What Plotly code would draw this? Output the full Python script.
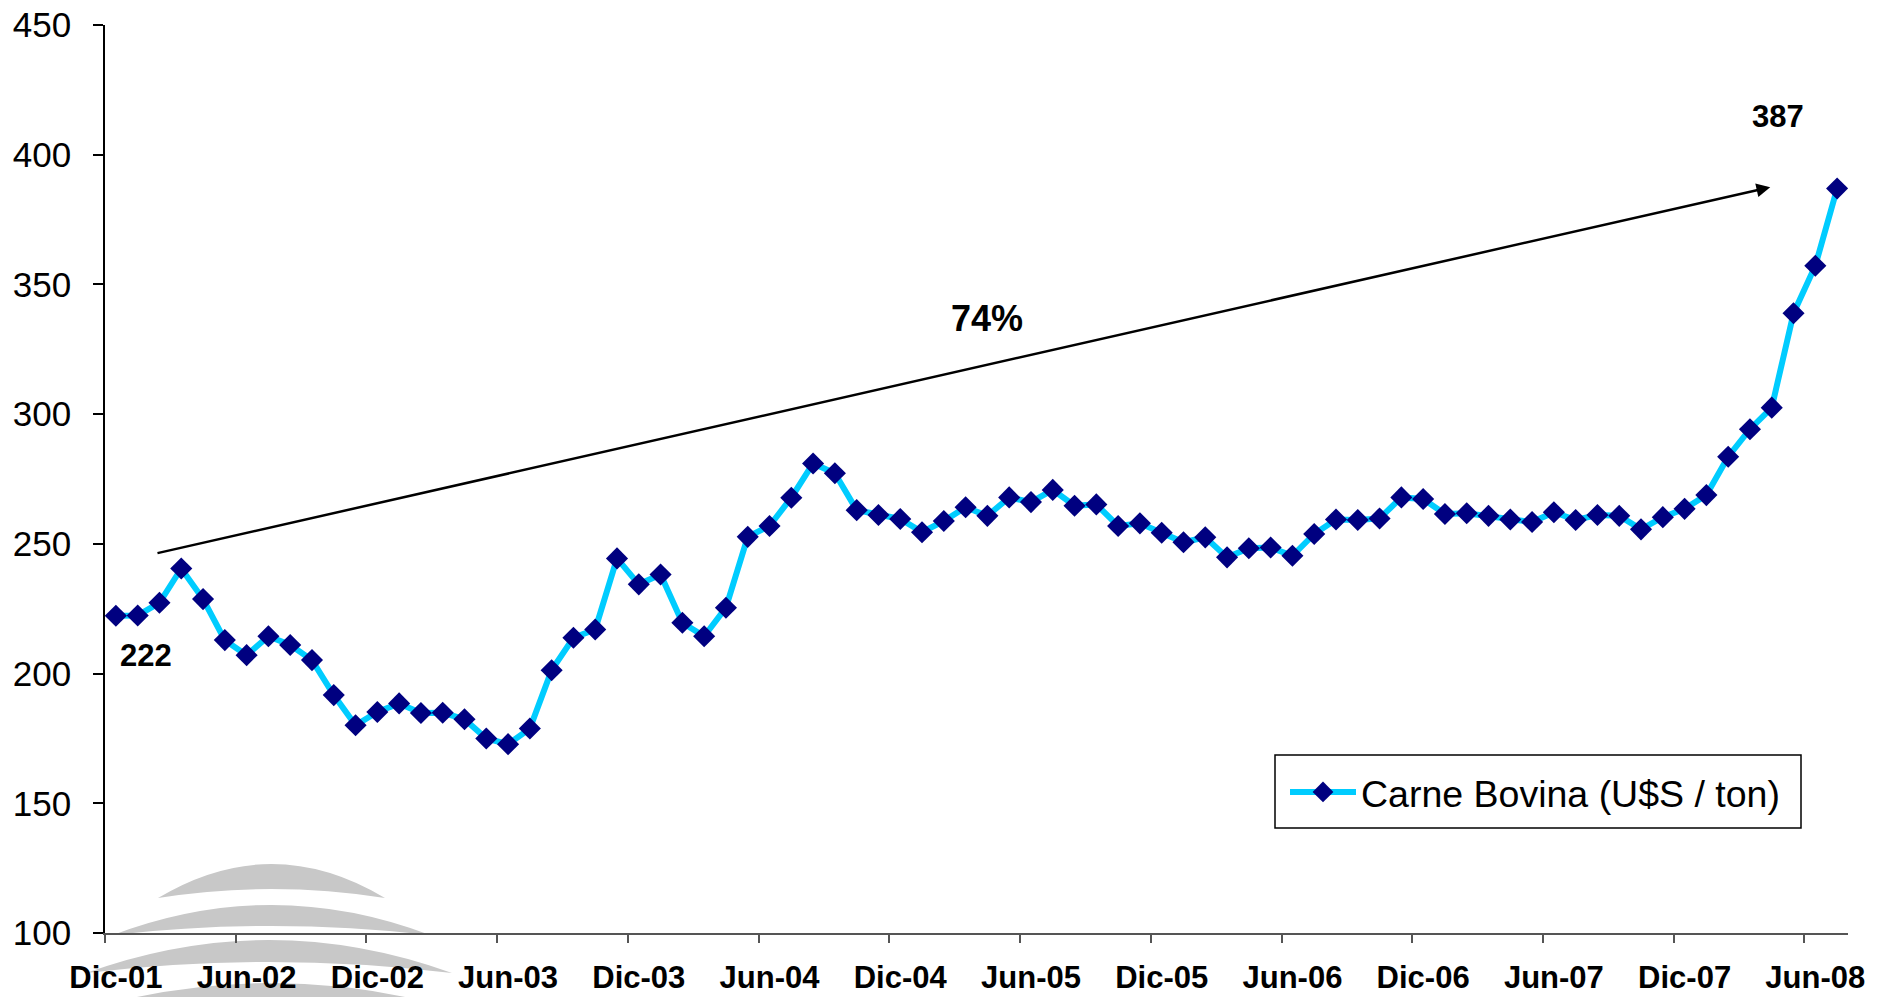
import plotly.graph_objects as go

# ---------------- data ----------------
months = [
    "Dic-01",
    "Ene-02", "Feb-02", "Mar-02", "Abr-02", "May-02", "Jun-02", "Jul-02", "Ago-02", "Sep-02", "Oct-02", "Nov-02", "Dic-02",
    "Ene-03", "Feb-03", "Mar-03", "Abr-03", "May-03", "Jun-03", "Jul-03", "Ago-03", "Sep-03", "Oct-03", "Nov-03", "Dic-03",
    "Ene-04", "Feb-04", "Mar-04", "Abr-04", "May-04", "Jun-04", "Jul-04", "Ago-04", "Sep-04", "Oct-04", "Nov-04", "Dic-04",
    "Ene-05", "Feb-05", "Mar-05", "Abr-05", "May-05", "Jun-05", "Jul-05", "Ago-05", "Sep-05", "Oct-05", "Nov-05", "Dic-05",
    "Ene-06", "Feb-06", "Mar-06", "Abr-06", "May-06", "Jun-06", "Jul-06", "Ago-06", "Sep-06", "Oct-06", "Nov-06", "Dic-06",
    "Ene-07", "Feb-07", "Mar-07", "Abr-07", "May-07", "Jun-07", "Jul-07", "Ago-07", "Sep-07", "Oct-07", "Nov-07", "Dic-07",
    "Ene-08", "Feb-08", "Mar-08", "Abr-08", "May-08", "Jun-08", "Jul-08",
]

carne_bovina = [
    222.3, 222.4, 227.3, 240.5, 228.7, 212.9, 207.1, 214.4, 211.0, 205.2, 191.7, 180.1, 185.2,
    188.5, 184.8, 184.9, 182.4, 175.0, 172.8, 178.8, 201.3, 213.8, 217.0, 244.4, 234.4,
    238.2, 219.6, 214.4, 225.4, 252.7, 256.9, 267.8, 281.0, 277.2, 263.0, 261.1, 259.6,
    254.5, 258.8, 264.1, 260.8, 267.9, 266.1, 270.8, 264.7, 265.2, 256.9, 257.9, 254.3,
    250.6, 252.5, 244.8, 248.3, 248.6, 245.4, 253.8, 259.4, 259.2, 259.8, 267.9, 267.3,
    261.5, 261.8, 260.8, 259.4, 258.4, 262.2, 259.2, 261.1, 260.8, 255.6, 260.3, 263.5,
    268.8, 283.6, 294.2, 302.5, 338.9, 357.2, 387.0,
]

tick_labels = ["Dic-01", "Jun-02", "Dic-02", "Jun-03", "Dic-03", "Jun-04", "Dic-04",
               "Jun-05", "Dic-05", "Jun-06", "Dic-06", "Jun-07", "Dic-07", "Jun-08"]

series_name = "Carne Bovina (U$S / ton)"
start_label = "222"
end_label = "387"
growth_label = "74%"

# ---------------- layout constants (page pixels) ----------------
PAGE_W, PAGE_H = 1892, 997
OFF = 0                      # body margin removed via post_script
W, H = PAGE_W - OFF, PAGE_H - OFF
PLOT_L, PLOT_R, PLOT_T, PLOT_B = 105, 1848, 25, 933
ML, MR = PLOT_L - OFF, PAGE_W - PLOT_R
MT, MB = PLOT_T - OFF, PAGE_H - PLOT_B
FONT = "Liberation Sans, Arial, sans-serif"

def px_to_paper(px, py):
    return ((px - PLOT_L) / (PLOT_R - PLOT_L), (PLOT_B - py) / (PLOT_B - PLOT_T))

fig = go.Figure()

fig.add_trace(go.Scatter(
    x=months, y=carne_bovina, name=series_name,
    mode="lines+markers",
    line=dict(color="#00CCFF", width=6),
    marker=dict(symbol="diamond", size=17, color="#000080",
                line=dict(width=0)),
))

# category boundaries before each labelled month -> tick marks (overlay axis)
boundaries = [months.index(lbl) - 0.5 for lbl in tick_labels]
fig.add_trace(go.Scatter(x=boundaries, y=[None] * len(boundaries),
                         xaxis="x2", yaxis="y", showlegend=False,
                         hoverinfo="skip", mode="markers"))

# watermark crescents (decorative, gray)
def crescent(lx, rx, tipy, top_peak, bot_peak):
    cx = (lx + rx) / 2
    ctop = 2 * top_peak - tipy
    cbot = 2 * bot_peak - tipy
    p = lambda a, b: px_to_paper(a, b)
    (x1, y1), (x2, y2) = p(lx, tipy), p(rx, tipy)
    (qx, qt), (_, qb) = p(cx, ctop), p(cx, cbot)
    return f"M {x1},{y1} Q {qx},{qt} {x2},{y2} Q {qx},{qb} {x1},{y1} Z"

for lx, rx, tipy, tp, bp in [
    (158, 385, 898, 864, 889),
    (113, 430, 935, 905, 926),
    (86, 452, 973, 940, 962),
    (78, 464, 1012, 983, 1003),
]:
    fig.add_shape(type="path", path=crescent(lx, rx, tipy, tp, bp),
                  xref="paper", yref="paper", layer="below",
                  fillcolor="rgb(200,200,200)", line=dict(width=0))

# legend box
(bx0, by0), (bx1, by1) = px_to_paper(1275, 828), px_to_paper(1801, 755)
fig.add_shape(type="rect", x0=bx0, y0=by0, x1=bx1, y1=by1,
              xref="paper", yref="paper", layer="below",
              fillcolor="white", line=dict(color="black", width=1.5))

# arrow
fig.add_annotation(x=75.93, y=387.5, ax=1.84, ay=246.3,
                   xref="x", yref="y", axref="x", ayref="y",
                   text="", showarrow=True, arrowhead=2, arrowsize=1.1,
                   arrowwidth=2.5, arrowcolor="black")

bold = dict(family=FONT, size=31, color="black", weight="bold")
fig.add_annotation(x=1.39, y=207.1, xref="x", yref="y", text=start_label,
                   showarrow=False, font=bold)
fig.add_annotation(x=76.3, y=414.7, xref="x", yref="y", text=end_label,
                   showarrow=False, font=bold)
fig.add_annotation(x=39.96, y=336.9, xref="x", yref="y", text=growth_label,
                   showarrow=False, font=dict(family=FONT, size=36, color="black", weight="bold"))

fig.update_layout(
    width=W, height=H,
    margin=dict(l=ML, r=MR, t=MT, b=MB, pad=0, autoexpand=False),
    paper_bgcolor="white", plot_bgcolor="white",
    font=dict(family=FONT, color="black"),
    showlegend=True,
    legend=dict(
        x=px_to_paper(1285, 0)[0], y=px_to_paper(0, 792)[1],
        xanchor="left", yanchor="middle",
        bgcolor="rgba(0,0,0,0)", borderwidth=0,
        font=dict(family=FONT, size=37.5, color="black"),
        itemwidth=66,
    ),
    xaxis=dict(
        type="category",
        range=[-0.5, len(months) - 0.5],
        tickmode="array", tickvals=tick_labels, ticktext=tick_labels,
        ticks="",
        showline=True, linecolor="#555555", linewidth=1.5,
        showgrid=False, zeroline=False, automargin=False,
        tickangle=0,
        tickfont=dict(family=FONT, size=31, color="black", weight="bold"),
        ticklabelstandoff=16, ticklabeloverflow="allow",
    ),
    xaxis2=dict(
        type="linear", overlaying="x", anchor="y", side="bottom",
        range=[-0.5, len(months) - 0.5],
        tickmode="array", tickvals=boundaries, ticktext=[""] * len(boundaries),
        ticks="outside", ticklen=9, tickwidth=1.5, tickcolor="#555555",
        showline=False, showgrid=False, zeroline=False, automargin=False,
        showticklabels=True,
    ),
    yaxis=dict(
        range=[100, 450],
        tickmode="linear", tick0=100, dtick=50,
        ticks="outside", ticklen=10, tickwidth=1.5, tickcolor="black",
        showline=True, linecolor="black", linewidth=1.5,
        showgrid=False, zeroline=False, automargin=False,
        tickfont=dict(family=FONT, size=35, color="black"),
        ticklabelstandoff=15, ticklabeloverflow="allow",
    ),
)

fig.write_html("out.html",
               config={"displayModeBar": False},
               post_script="document.body.style.margin='0';document.body.style.overflow='hidden';")
